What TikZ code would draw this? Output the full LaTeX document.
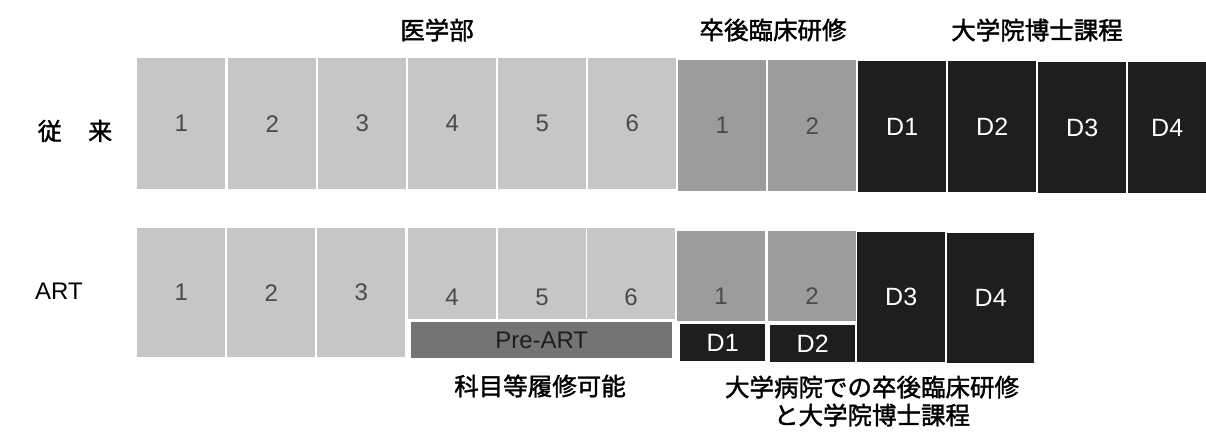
\documentclass[tikz,border=0pt]{standalone}
\usepackage{fontspec}
\setmainfont{Liberation Sans}
\newfontfamily\jp{Noto Sans CJK JP}[FakeBold=1.6]
\definecolor{medgray}{HTML}{C6C6C6}
\definecolor{clingray}{HTML}{9C9C9C}
\definecolor{docdark}{HTML}{1E1E1E}
\definecolor{pregray}{HTML}{747474}
\definecolor{numgray}{HTML}{4A4A4A}
\begin{document}
\begin{tikzpicture}[x=1pt,y=-1pt,
  cell/.style={inner sep=0pt, anchor=north west, minimum width=88pt, font=\fontsize{24}{24}\selectfont},
  med/.style={cell, fill=medgray, text=numgray},
  clin/.style={cell, fill=clingray, text=numgray},
  doc/.style={cell, fill=docdark, text=white, font=\fontsize{25}{25}\selectfont},
  numlab/.style={inner sep=0pt, font=\fontsize{24}{24}\selectfont, text=numgray},
  head/.style={inner sep=0pt, font=\jp\fontsize{24.5}{28}\selectfont},
  rowlab/.style={inner sep=0pt, font=\fontsize{24}{24}\selectfont}
]
\useasboundingbox (0,0) rectangle (1206,436);
% headers
\node[head] (h1) at (437,30) {医学部};
\node[head] (h2) at (773,30) {卒後臨床研修};
\node[head] (h3) at (1037,30) {大学院博士課程};
% row labels
\node[rowlab, font=\jp\fontsize{24}{24}\selectfont] (r1) at (75,131) {従\hspace{1.1em}来};
\node[rowlab] (r2) at (59,291) {ART};
% row 1
\node[med, minimum height=131pt] (a1) at (137,58) {1};
\node[med, minimum height=131pt] (a2) at (228,58) {2};
\node[med, minimum height=131pt] (a3) at (318,58) {3};
\node[med, minimum height=131pt] (a4) at (408,58) {4};
\node[med, minimum height=131pt] (a5) at (498,58) {5};
\node[med, minimum height=131pt] (a6) at (588,58) {6};
\node[clin, minimum height=131pt] (a7) at (678,60) {1};
\node[clin, minimum height=131pt] (a8) at (768,60) {2};
\node[doc, minimum height=131pt] (a9) at (858,61) {D1};
\node[doc, minimum height=131pt] (a10) at (948,61) {D2};
\node[doc, minimum height=131pt] (a11) at (1038,62) {D3};
\node[doc, minimum height=131pt, minimum width=78pt] (a12) at (1128,62) {D4};
% row 2
\node[med, minimum height=129pt] (b1) at (137,228) {1};
\node[med, minimum height=129pt] (b2) at (227,228) {2};
\node[med, minimum height=129pt] (b3) at (317,228) {3};
\node[med, minimum height=91pt] (b4) at (408,228) {};
\node[med, minimum height=91pt] (b5) at (498,228) {};
\node[med, minimum height=91pt] (b6) at (587,228) {};
\node[cell, fill=pregray, minimum width=261pt, minimum height=36pt, text=docdark, font=\fontsize{24}{24}\selectfont] (pre) at (411,322) {Pre-ART};
\node[clin, minimum height=90pt] (b7) at (677,231) {};
\node[clin, minimum height=90pt] (b8) at (768,231) {};
\node[doc, minimum height=37pt, minimum width=85pt] (s1) at (680,324) {D1};
\node[doc, minimum height=37pt, minimum width=85pt] (s2) at (770,325) {D2};
\node[doc, minimum height=130pt] (b9) at (857,232) {D3};
\node[doc, minimum height=130pt, minimum width=87pt] (b10) at (947,233) {D4};
\node[numlab] (t4) at (452,297) {4};
\node[numlab] (t5) at (542,297) {5};
\node[numlab] (t6) at (631,297) {6};
\node[numlab] (t7) at (721,296) {1};
\node[numlab] (t8) at (812,296) {2};
% bottom notes
\node[head] (n1) at (540,386) {科目等履修可能};
\node[head, align=center] (n2) at (872,401) {大学病院での卒後臨床研修\\と大学院博士課程};
\end{tikzpicture}
\end{document}
